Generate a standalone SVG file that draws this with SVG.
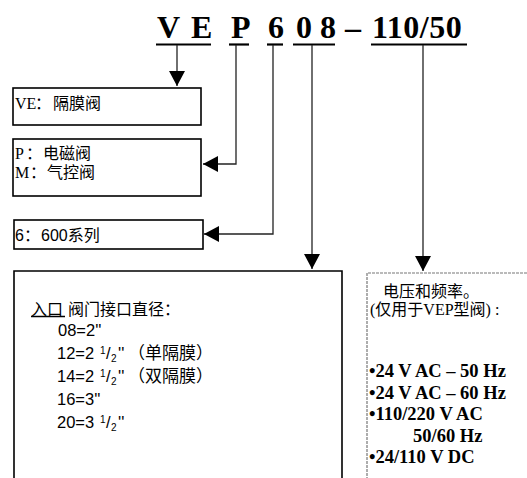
<svg xmlns="http://www.w3.org/2000/svg" width="527" height="478" viewBox="0 0 527 478">
<style>
.bg{fill:#fff}
.box{fill:#fff;stroke:#000;stroke-width:1.6}
.openbox{fill:none;stroke:#000;stroke-width:1.6}
.dotbox{fill:none;stroke:#777;stroke-width:1.2;stroke-dasharray:3 1}
.hdr{font-family:"Liberation Serif",serif;font-weight:bold;font-size:32px;fill:#000}
.ul{stroke:#000;stroke-width:2.2}
.conn{fill:none;stroke:#222;stroke-width:1.3}
.cn{font-family:"Liberation Serif","Noto Sans CJK SC",serif;font-size:16px;fill:#000}
.sans{font-family:"Liberation Sans","Noto Sans CJK SC",sans-serif;font-size:16px;fill:#000}
.num{font-family:"Liberation Sans",sans-serif;font-size:16.5px;fill:#000}
.sm{font-size:10px}
.bul{font-family:"Liberation Serif",serif;font-weight:bold;font-size:18.5px;fill:#000}
</style>
<defs>
<marker id="ah" viewBox="0 0 15 16" refX="15" refY="8" markerWidth="15" markerHeight="16" markerUnits="userSpaceOnUse" orient="auto">
<path d="M0,0 L15,8 L0,16 Z" fill="#000"/>
</marker>
</defs>
<rect class="bg" x="0" y="0" width="527" height="478"/>

<g id="code">
<text class="hdr" y="38"><tspan x="157">V</tspan><tspan x="191">E</tspan><tspan x="231">P</tspan><tspan x="268">6</tspan><tspan x="296">0</tspan><tspan x="320">8</tspan><tspan x="345">–</tspan><tspan x="372" letter-spacing="0.5">110/50</tspan></text>
<line class="ul" x1="156" y1="44.5" x2="211" y2="44.5"/>
<line class="ul" x1="229" y1="44.5" x2="249" y2="44.5"/>
<line class="ul" x1="267" y1="44.5" x2="283" y2="44.5"/>
<line class="ul" x1="293" y1="44.5" x2="335" y2="44.5"/>
<line class="ul" x1="371" y1="44.5" x2="467" y2="44.5"/>
</g>

<g id="connectors">
<path class="conn" d="M177,45 V86" marker-end="url(#ah)"/>
<path class="conn" d="M236,45 V164 H203" marker-end="url(#ah)"/>
<path class="conn" d="M273,45 V234 H204" marker-end="url(#ah)"/>
<path class="conn" d="M312,45 V269" marker-end="url(#ah)"/>
<path class="conn" d="M423,45 V271" marker-end="url(#ah)"/>
</g>

<g id="node-ve">
<rect class="box" x="13" y="88" width="188" height="37"/>
<text class="cn" y="109"><tspan x="15">VE</tspan><tspan x="35">：</tspan><tspan x="53">隔膜阀</tspan></text>
</g>

<g id="node-p">
<rect class="box" x="13" y="139" width="188" height="57"/>
<text class="cn" y="159"><tspan x="15">P</tspan><tspan x="26">：</tspan><tspan x="43">电磁阀</tspan></text>
<text class="cn" y="178"><tspan x="15">M</tspan><tspan x="30">：</tspan><tspan x="47">气控阀</tspan></text>
</g>

<g id="node-6">
<rect class="box" x="14" y="220" width="189" height="29"/>
<text class="sans" y="241"><tspan x="15">6</tspan><tspan x="24">：</tspan><tspan x="41">600系列</tspan></text>
</g>

<g id="node-inlet">
<path class="openbox" d="M14,480 V271 H342 V480"/>
<text class="cn" y="315" font-size="17"><tspan x="31">入口</tspan><tspan x="68">阀门接口直径：</tspan></text>
<line x1="31" y1="316.5" x2="65" y2="316.5" stroke="#000" stroke-width="1.5"/>
<text class="num" y="336"><tspan x="58">08=2''</tspan></text>
<text class="num" y="359"><tspan x="57">12=2</tspan><tspan x="100" class="sm" dy="-5">1</tspan><tspan x="106" dy="5">/</tspan><tspan x="111" class="sm" dy="3">2</tspan><tspan x="118" dy="-3">''</tspan><tspan x="128" font-family="'Noto Sans CJK SC',sans-serif" font-size="17">（单隔膜）</tspan></text>
<text class="num" y="382"><tspan x="57">14=2</tspan><tspan x="100" class="sm" dy="-5">1</tspan><tspan x="106" dy="5">/</tspan><tspan x="111" class="sm" dy="3">2</tspan><tspan x="118" dy="-3">''</tspan><tspan x="128" font-family="'Noto Sans CJK SC',sans-serif" font-size="17">（双隔膜）</tspan></text>
<text class="num" y="405"><tspan x="57">16=3''</tspan></text>
<text class="num" y="428"><tspan x="57">20=3</tspan><tspan x="100" class="sm" dy="-5">1</tspan><tspan x="106" dy="5">/</tspan><tspan x="111" class="sm" dy="3">2</tspan><tspan x="118" dy="-3">''</tspan></text>
</g>

<g id="node-voltage">
<path class="dotbox" d="M367,480 V273 H530"/>
<text class="cn" font-size="14" x="383" y="297">电压和频率。</text>
<text class="cn" font-size="15" x="370" y="315">(仅用于VEP型阀) :</text>
<text class="bul" x="369" y="377">•24 V AC – 50 Hz</text>
<text class="bul" x="369" y="398.5">•24 V AC – 60 Hz</text>
<text class="bul" x="369" y="420">•110/220 V AC</text>
<text class="bul" x="413" y="441.5">50/60 Hz</text>
<text class="bul" x="369" y="463">•24/110 V DC</text>
</g>
</svg>
